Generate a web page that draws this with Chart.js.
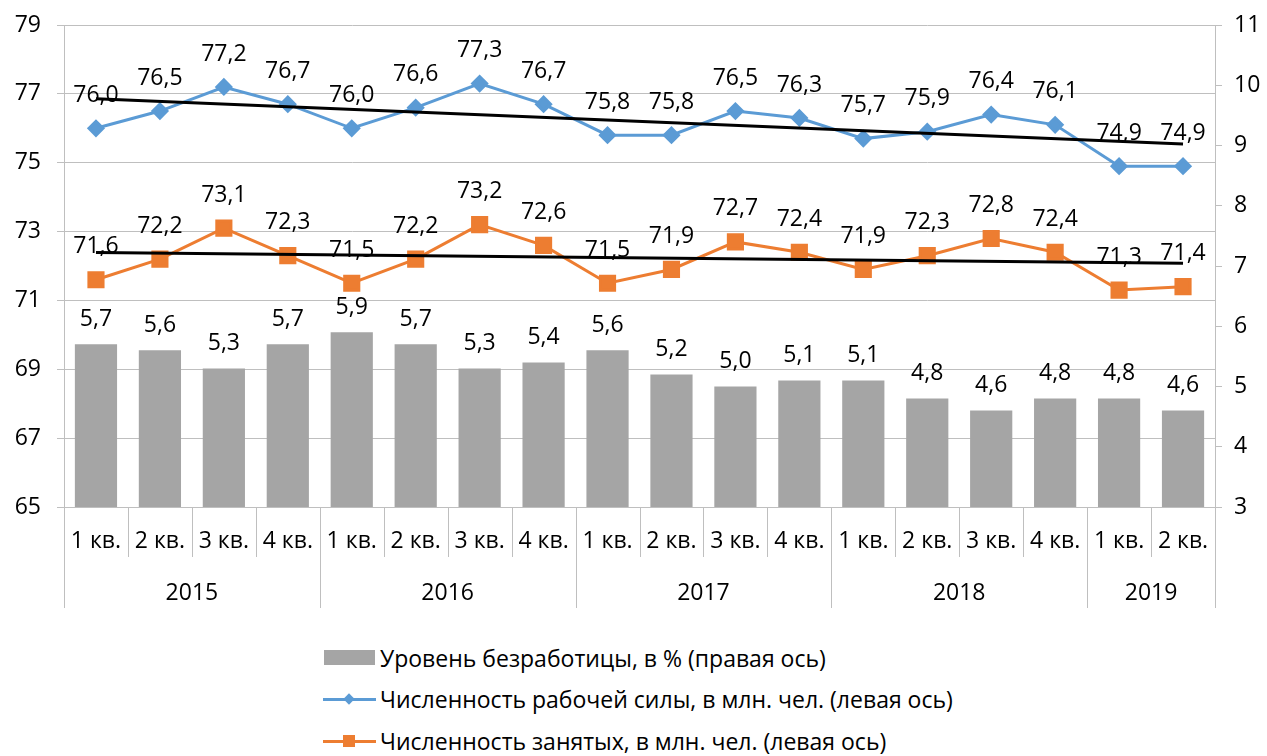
<!DOCTYPE html>
<html lang="ru">
<head>
<meta charset="utf-8">
<script src="https://cdn.jsdelivr.net/npm/chart.js@4.4.0/dist/chart.umd.min.js"></script>
<style>
  html, body { margin: 0; padding: 0; background: #fff; }
  #wrap { position: relative; width: 1267px; height: 756px; overflow: hidden; }
  #chart { position: absolute; left: 0; top: 0; }
  .legend { position: absolute; left: 323px; top: 637px; font-family: "Open Sans", "Noto Sans", sans-serif; font-size: 23px; color: #000; }
  .item { height: 41.5px; display: flex; align-items: center; }
  .icon { width: 53px; height: 16px; position: relative; margin-right: 4px; }
  .box { position: absolute; left: 1px; top: 0px; width: 51px; height: 15px; background: #a5a5a5; }
  .ln { position: absolute; left: 0; top: 7px; width: 53px; height: 3px; }
  .mk { position: absolute; left: 21px; top: 3px; width: 10px; height: 10px; }
</style>
</head>
<body>
<div id="wrap">
  <canvas id="chart" width="1267" height="620"></canvas>
  <div class="legend">
    <div class="item"><div class="icon"><div class="box"></div></div><span>Уровень безработицы, в % (правая ось)</span></div>
    <div class="item"><div class="icon"><div class="ln" style="background:#5b9bd5"></div><div class="mk" style="background:#5b9bd5;transform:rotate(45deg) scale(0.8)"></div></div><span>Численность рабочей силы, в млн. чел. (левая ось)</span></div>
    <div class="item"><div class="icon"><div class="ln" style="background:#ed7d31"></div><div class="mk" style="background:#ed7d31;left:20px;top:2px;width:12px;height:12px"></div></div><span>Численность занятых, в млн. чел. (левая ось)</span></div>
  </div>
</div>
<script>
// --- данные ---
const quarters = ['1 кв.', '2 кв.', '3 кв.', '4 кв.', '1 кв.', '2 кв.', '3 кв.', '4 кв.', '1 кв.', '2 кв.', '3 кв.', '4 кв.', '1 кв.', '2 кв.', '3 кв.', '4 кв.', '1 кв.', '2 кв.'];
const years = ['2015', '2016', '2017', '2018', '2019'];
const yearQuarterCount = [4, 4, 4, 4, 2];

const unemployment = [5.7, 5.6, 5.3, 5.7, 5.9, 5.7, 5.3, 5.4, 5.6, 5.2, 5.0, 5.1, 5.1, 4.8, 4.6, 4.8, 4.8, 4.6];
const labourForce = [76.0, 76.5, 77.2, 76.7, 76.0, 76.6, 77.3, 76.7, 75.8, 75.8, 76.5, 76.3, 75.7, 75.9, 76.4, 76.1, 74.9, 74.9];
const employed = [71.6, 72.2, 73.1, 72.3, 71.5, 72.2, 73.2, 72.6, 71.5, 71.9, 72.7, 72.4, 71.9, 72.3, 72.8, 72.4, 71.3, 71.4];

// линии тренда: начало и конец
const labourTrend = [76.86, 75.54];
const employedTrend = [72.39, 72.08];

const FONT = '"Open Sans", "Noto Sans", sans-serif';
Chart.defaults.font.family = FONT;
Chart.defaults.font.size = 23;
Chart.defaults.color = '#000';

function trendData(ends) {
  return quarters.map((q, i) => i === 0 ? ends[0] : (i === quarters.length - 1 ? ends[1] : null));
}

function fmt(v) {
  return v.toFixed(1).replace('.', ',');
}

// оси фиксированной ширины без лишних отступов
function fixWidth(w) {
  return scale => {
    scale.width = w;
    scale.paddingTop = 0;
    scale.paddingBottom = 0;
  };
}

// подписи значений
const valueLabels = {
  id: 'valueLabels',
  afterDatasetsDraw(chart) {
    const ctx = chart.ctx;
    ctx.save();
    ctx.font = '23px ' + FONT;
    ctx.fillStyle = '#000';
    ctx.textAlign = 'center';
    ctx.textBaseline = 'middle';
    chart.data.datasets.forEach((ds, i) => {
      if (!ds.showValues) return;
      const meta = chart.getDatasetMeta(i);
      meta.data.forEach((el, j) => {
        const off = ds.type === 'bar' ? 25 : 33;
        ctx.fillText(fmt(ds.data[j]), el.x, el.y - off);
      });
    });
    ctx.restore();
  }
};

// двухуровневая ось: разделители и годы
const yearAxis = {
  id: 'yearAxis',
  afterDraw(chart) {
    const x = chart.scales.x;
    const ctx = chart.ctx;
    const n = quarters.length;
    const bottom = x.top;
    const edge = i => i === 0 ? x.left : (i === n ? x.right : (x.getPixelForValue(i - 1) + x.getPixelForValue(i)) / 2);

    const yearStarts = [0];
    yearQuarterCount.forEach((c, k) => yearStarts.push(yearStarts[k] + c));

    ctx.save();
    ctx.strokeStyle = '#bfbfbf';
    ctx.lineWidth = 1;
    for (let i = 0; i <= n; i++) {
      const px = Math.round(edge(i)) + 0.5;
      const long = yearStarts.includes(i);
      ctx.beginPath();
      ctx.moveTo(px, bottom);
      ctx.lineTo(px, bottom + (long ? 101 : 50));
      ctx.stroke();
    }
    ctx.font = '23px ' + FONT;
    ctx.fillStyle = '#000';
    ctx.textAlign = 'center';
    ctx.textBaseline = 'middle';
    years.forEach((y, k) => {
      const cx = (edge(yearStarts[k]) + edge(yearStarts[k + 1])) / 2;
      ctx.fillText(y, cx, bottom + 86);
    });
    ctx.restore();
  }
};

new Chart(document.getElementById('chart'), {
  data: {
    labels: quarters,
    datasets: [
      {
        type: 'line',
        label: 'trend1',
        data: trendData(labourTrend),
        spanGaps: true,
        borderColor: '#000',
        borderWidth: 3,
        pointRadius: 0,
        yAxisID: 'y',
        order: 0
      },
      {
        type: 'line',
        label: 'trend2',
        data: trendData(employedTrend),
        spanGaps: true,
        borderColor: '#000',
        borderWidth: 3,
        pointRadius: 0,
        yAxisID: 'y',
        order: 0
      },
      {
        type: 'line',
        label: 'Численность рабочей силы, в млн. чел. (левая ось)',
        data: labourForce,
        borderColor: '#5b9bd5',
        backgroundColor: '#5b9bd5',
        borderWidth: 3,
        pointStyle: 'rectRot',
        pointRadius: 7,
        yAxisID: 'y',
        showValues: true,
        order: 1
      },
      {
        type: 'line',
        label: 'Численность занятых, в млн. чел. (левая ось)',
        data: employed,
        borderColor: '#ed7d31',
        backgroundColor: '#ed7d31',
        borderWidth: 3,
        pointStyle: 'rect',
        pointRadius: 10,
        yAxisID: 'y',
        showValues: true,
        order: 2
      },
      {
        type: 'bar',
        label: 'Уровень безработицы, в % (правая ось)',
        data: unemployment,
        backgroundColor: '#a5a5a5',
        barPercentage: 0.66,
        categoryPercentage: 1,
        yAxisID: 'y1',
        showValues: true,
        order: 3
      }
    ]
  },
  options: {
    responsive: false,
    animation: false,
    layout: { padding: { top: 25, left: 0, right: 0, bottom: 0 } },
    plugins: { legend: { display: false }, tooltip: { enabled: false } },
    scales: {
      x: {
        offset: true,
        grid: { display: false, drawTicks: false },
        border: { display: true, color: '#bfbfbf' },
        ticks: { padding: 21, maxRotation: 0, autoSkip: false },
        afterFit(scale) { scale.height = 113; }
      },
      y: {
        position: 'left',
        min: 65,
        max: 79,
        ticks: { stepSize: 2, padding: 16 },
        grid: { color: '#bfbfbf', tickLength: 7 },
        border: { color: '#bfbfbf' },
        afterFit: fixWidth(64)
      },
      y1: {
        position: 'right',
        min: 3,
        max: 11,
        ticks: { stepSize: 1, padding: 12 },
        grid: { drawOnChartArea: false, color: '#bfbfbf', tickLength: 7 },
        border: { color: '#bfbfbf' },
        afterFit: fixWidth(52)
      }
    }
  },
  plugins: [valueLabels, yearAxis]
});
</script>
</body>
</html>
